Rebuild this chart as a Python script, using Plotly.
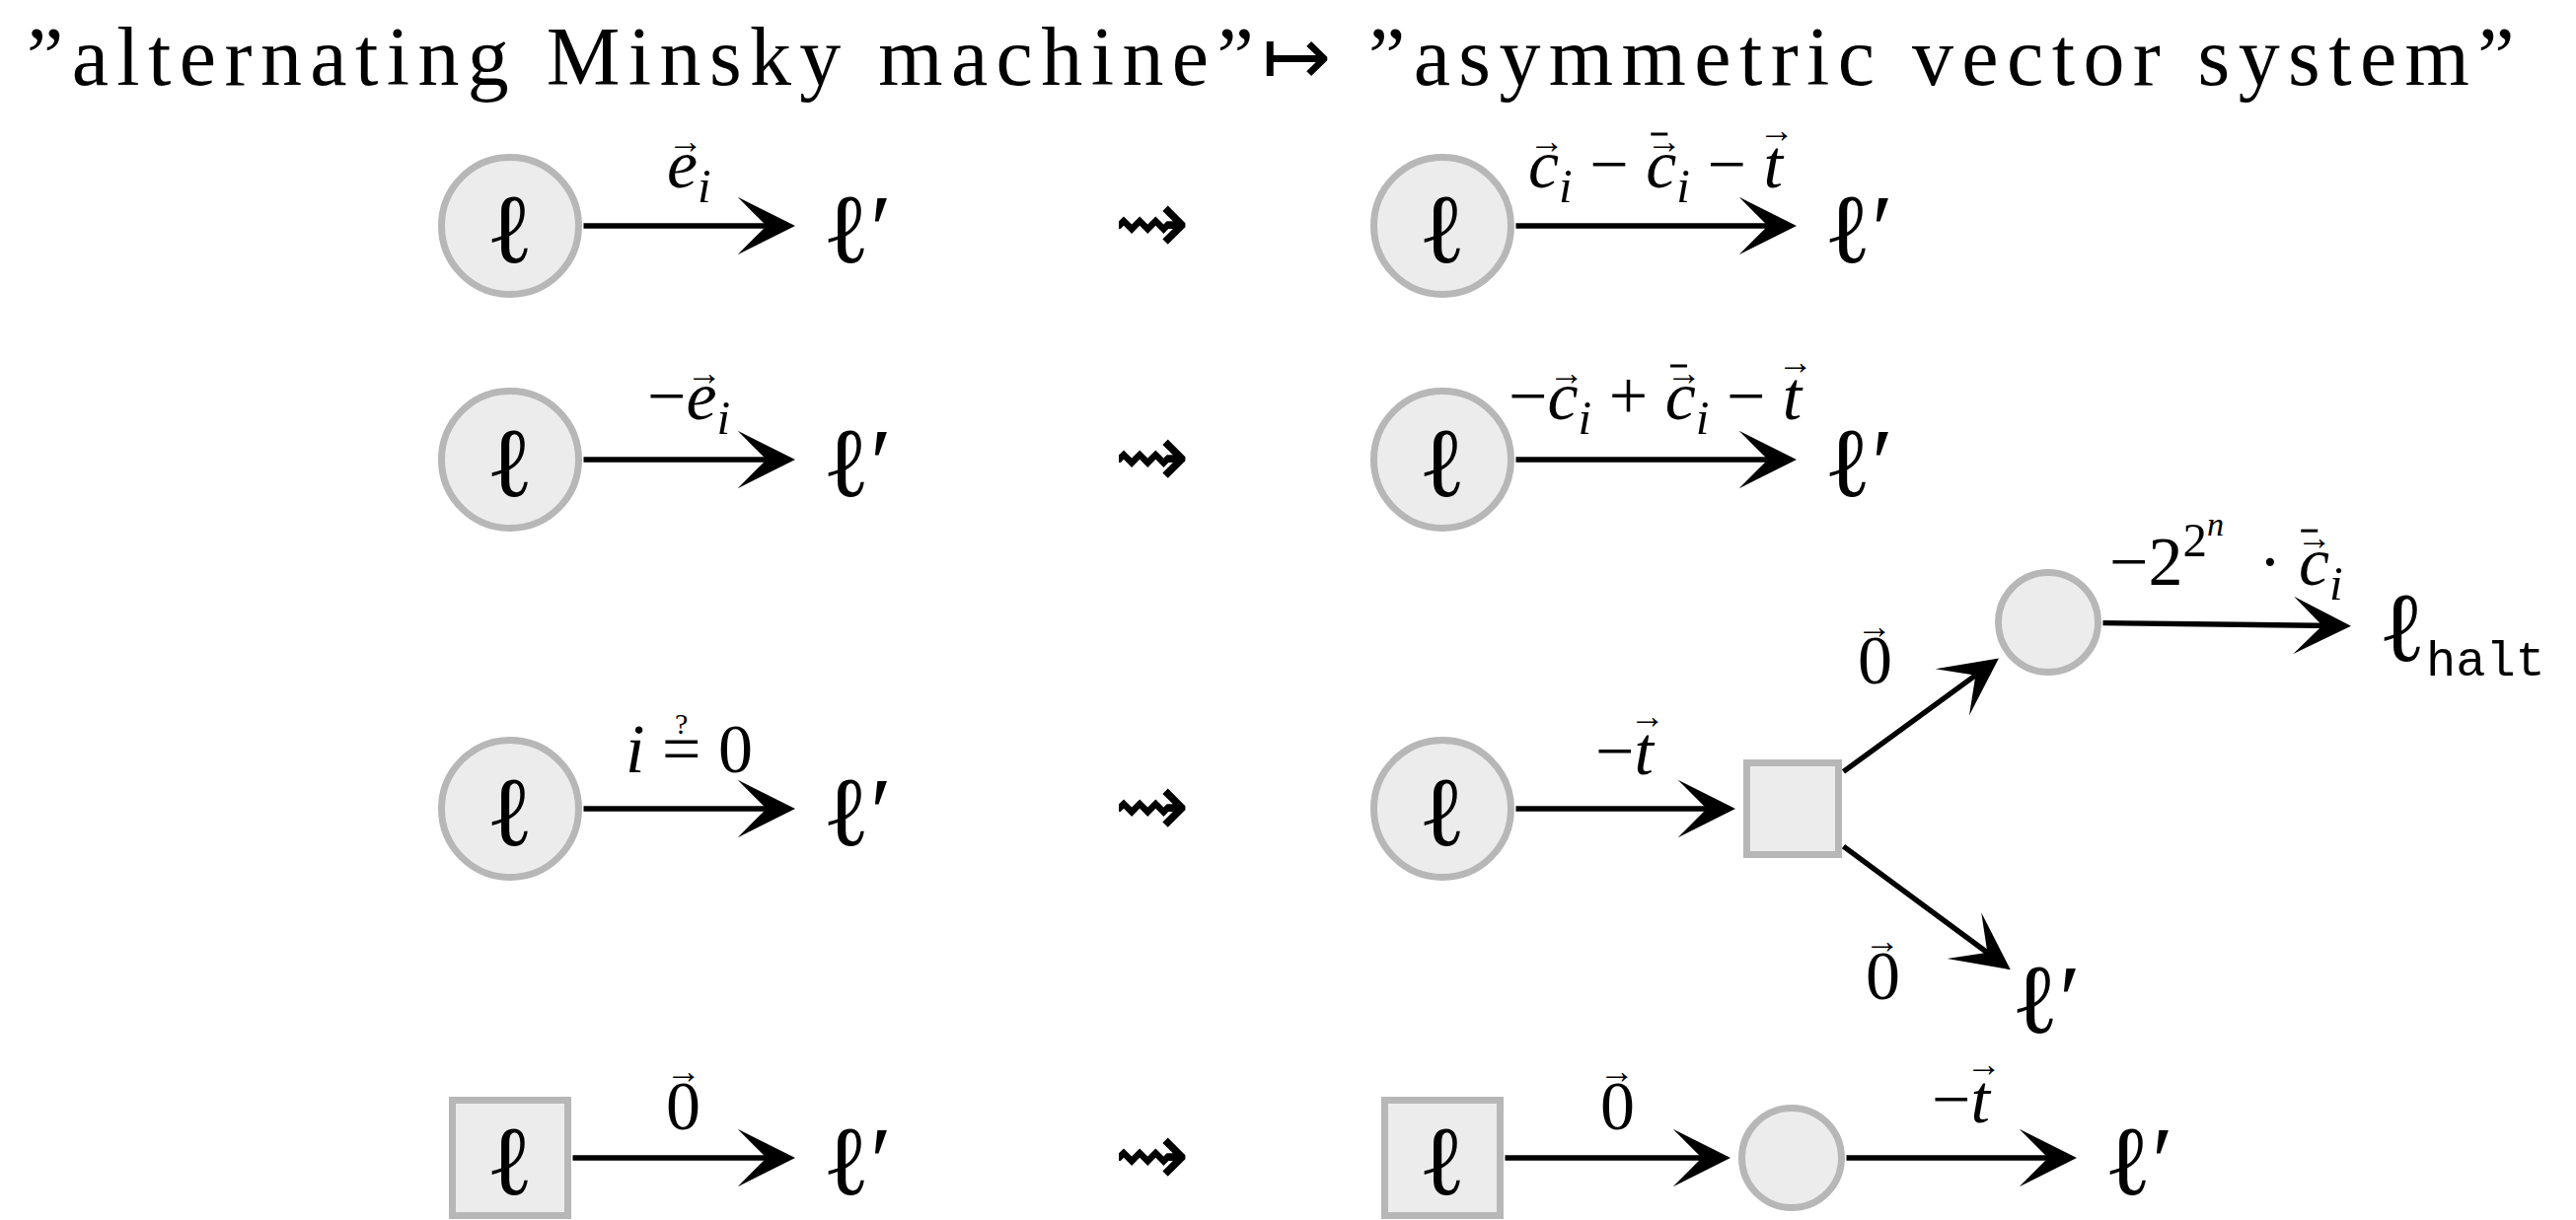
import math
import plotly.graph_objects as go

W, H = 2611, 1237
PAGE_MARGIN = 8   # default body margin of the html page

TITLE = "\u201dalternating Minsky machine\u201d\u21a6 \u201dasymmetric vector system\u201d"
TITLE_X = 25
TITLE_BASE = 86
TITLE_SIZE = 84
TITLE_SPACING = 8.4

SERIF = "Liberation Serif"
MONO = "Liberation Mono"
ELL_FONT = "DejaVu Serif"

# ---- nodes -------------------------------------------------------------
NODE_NAMES = ["L1", "L2", "L3", "L4",
              "R1", "R2", "R3", "R3q", "R3c", "R4", "R4c",
              "T1", "T2", "T3", "T4", "U1", "U2", "HALT", "U3", "U4"]
NODE_X = [517, 517, 517, 517,
          1462, 1462, 1462, 1817, 2076, 1462, 1816,
          869, 869, 869, 869, 1884, 1884, 2495, 2074, 2168]
NODE_Y = [229, 466, 820, 1174,
          229, 466, 820, 820, 631, 1174, 1174,
          229, 466, 820, 1174, 229, 466, 636, 1010, 1174]
NODE_KIND = ["circle", "circle", "circle", "square",
             "circle", "circle", "circle", "square", "circle", "square", "circle",
             "text", "text", "text", "text", "text", "text", "text", "text", "text"]
NODE_SIZE = [73, 73, 73, 62,
             73, 73, 73, 50, 54, 62, 54,
             63, 63, 63, 63, 63, 63, 112, 45, 63]
ELL = "\u2113"
LP = "\u2113<span style='font-family:Liberation Serif'>\u2032</span>"
HALT = ("<span style='font-size:100px'>\u2113</span>"
        "<sub><span style='font-family:Liberation Mono'>halt</span></sub>")
NODE_LABEL = [ELL, ELL, ELL, ELL,
              ELL, ELL, ELL, "", "", ELL, "",
              LP, LP, LP, LP, LP, LP, HALT, LP, LP]

# ---- edges -------------------------------------------------------------
M = "\u2212"
EDGE_SRC = ["L1", "L2", "L3", "L4", "R1", "R2", "R3", "R3q", "R3q", "R3c", "R4", "R4c"]
EDGE_DST = ["T1", "T2", "T3", "T4", "U1", "U2", "R3q", "R3c", "U3", "HALT", "R4c", "U4"]
EDGE_RUNS = [
    [("e", 0, 1, "vec"), ("i", 1, 1, None)],
    [(M, 0, 0, None), ("e", 0, 1, "vec"), ("i", 1, 1, None)],
    [("i", 0, 1, None), (" ", 0, 0, None), ("=", 0, 0, "q"), (" ", 0, 0, None), ("0", 0, 0, None)],
    [("0", 0, 0, "vec")],
    [("c", 0, 1, "vec"), ("i", 1, 1, None), (" " + M + " ", 0, 0, None),
     ("c", 0, 1, "barvec"), ("i", 1, 1, None), (" " + M + " ", 0, 0, None), ("t", 0, 1, "vec")],
    [(M, 0, 0, None), ("c", 0, 1, "vec"), ("i", 1, 1, None), (" + ", 0, 0, None),
     ("c", 0, 1, "barvec"), ("i", 1, 1, None), (" " + M + " ", 0, 0, None), ("t", 0, 1, "vec")],
    [(M, 0, 0, None), ("t", 0, 1, "vec")],
    [("0", 0, 0, "vec")],
    [("0", 0, 0, "vec")],
    [(M, 0, 0, None), ("2", 0, 0, None), ("2", 2, 0, None), ("n", 3, 1, None),
     ("\u2002\u00b7 ", 0, 0, None), ("c", 0, 1, "barvec"), ("i", 1, 1, None)],
    [("0", 0, 0, "vec")],
    [(M, 0, 0, None), ("t", 0, 1, "vec")],
]
EDGE_LABEL_DX = [0, 0, 0, 0, 0, 0, 0, -46, -44, 0, 0, 0]
EDGE_LABEL_BASE_DY = [-38, -40, -37, -29, -38, -40, -35, -32, 93, -40, -29, -36]

SQUIG_X = 1167
SQUIG_ROWS = [229, 466, 820, 1174]

STROKE = "#999999"
FILL = "#e5e5e5"
NODE_LINE = 7
ARROW_W = 5.4
TIP_GAP = 8
FS_MATH = 70
FS_NODE = 100
FS_VEC = 36

ADV_RM = {" ": 0.25, "\u2002": 0.5, "0": 0.5, "2": 0.5, "+": 0.564, M: 0.564,
          "=": 0.564, "\u00b7": 0.25}
ADV_IT = {"c": 0.444, "e": 0.444, "t": 0.278, "i": 0.278, "n": 0.5}
LEVEL_SCALE = {0: 1.0, 1: 0.7, 2: 0.7, 3: 0.49}
LEVEL_SHIFT = {0: 0.0, 1: 0.21, 2: -0.42, 3: -0.714}
LEVEL_TAGS = {0: [], 1: ["sub"], 2: ["sup"], 3: ["sup", "sup"]}
ASC, DESC = 0.891, 0.216

idx = {n: i for i, n in enumerate(NODE_NAMES)}


def boundary(i, ux, uy):
    k, s = NODE_KIND[i], NODE_SIZE[i]
    if k == "square":
        return min(s / abs(ux) if ux else 1e9, s / abs(uy) if uy else 1e9)
    return s


def build(runs):
    html, stack, x = "", [], 0.0
    top, bot = -ASC, DESC
    decos = []
    for text, lvl, it, deco in runs:
        tags = LEVEL_TAGS[lvl]
        k = 0
        while k < len(stack) and k < len(tags) and stack[k] == tags[k]:
            k += 1
        for t in reversed(stack[k:]):
            html += f"</{t}>"
        for t in tags[k:]:
            html += f"<{t}>"
        stack = list(tags)
        html += f"<i>{text}</i>" if it else text
        sc = LEVEL_SCALE[lvl]
        w = sum((ADV_IT if it else ADV_RM).get(ch, 0.5) for ch in text) * sc
        if deco:
            tall = text in ("t", "0")
            decos.append((x + w / 2 + (0.05 if it else 0.0), tall, deco))
        x += w
        top = min(top, LEVEL_SHIFT[lvl] - ASC * sc)
        bot = max(bot, LEVEL_SHIFT[lvl] + DESC * sc)
    for t in reversed(stack):
        html += f"</{t}>"
    return html, x, (top + bot) / 2, decos


fig = go.Figure()

for kind, sym in (("circle", "circle"), ("square", "square")):
    sel = [i for i in range(len(NODE_NAMES)) if NODE_KIND[i] == kind]
    fig.add_trace(go.Scatter(
        x=[NODE_X[i] for i in sel], y=[NODE_Y[i] for i in sel], mode="markers",
        hoverinfo="skip",
        marker=dict(symbol=sym, size=[2 * (NODE_SIZE[i] - NODE_LINE / 2) for i in sel],
                    color=FILL, line=dict(color=STROKE, width=NODE_LINE))))

for i, lab in enumerate(NODE_LABEL):
    if not lab:
        continue
    fig.add_annotation(x=NODE_X[i], y=NODE_Y[i] + 2, text=lab, showarrow=False,
                       xanchor="center", yanchor="middle",
                       font=dict(family=ELL_FONT, size=FS_NODE if lab != HALT else 72,
                                 color="black"))

for s, d, runs, dx, bdy in zip(EDGE_SRC, EDGE_DST, EDGE_RUNS, EDGE_LABEL_DX, EDGE_LABEL_BASE_DY):
    i, j = idx[s], idx[d]
    vx, vy = NODE_X[j] - NODE_X[i], NODE_Y[j] - NODE_Y[i]
    L = math.hypot(vx, vy)
    ux, uy = vx / L, vy / L
    t0 = boundary(i, ux, uy)
    t1 = boundary(j, ux, uy) + (TIP_GAP if NODE_KIND[j] != "text" else 0)
    x0, y0 = NODE_X[i] + ux * t0, NODE_Y[i] + uy * t0
    x1, y1 = NODE_X[j] - ux * t1, NODE_Y[j] - uy * t1
    fig.add_annotation(x=x1, y=y1, ax=x0, ay=y0, xref="x", yref="y", axref="x", ayref="y",
                       text="", showarrow=True, arrowhead=3, arrowsize=1.8,
                       arrowwidth=ARROW_W, arrowcolor="black", standoff=0, startstandoff=0)
    html, wid, cen, decos = build(runs)
    cx = (x0 + x1) / 2 + dx
    base = (y0 + y1) / 2 + bdy
    fig.add_annotation(x=cx, y=base + cen * FS_MATH, text=html, showarrow=False,
                       xanchor="center", yanchor="middle",
                       font=dict(family=SERIF, size=FS_MATH, color="black"))
    left = cx - wid * FS_MATH / 2
    for ex, tall, kind in decos:
        axc = left + ex * FS_MATH
        if kind == "q":
            fig.add_annotation(x=axc, y=base - 50, text="?", showarrow=False,
                               xanchor="center", yanchor="middle",
                               font=dict(family=SERIF, size=30, color="black"))
            continue
        ay_ = base - (55 if tall else 44)
        fig.add_annotation(x=axc, y=ay_ - 4, text="\u2192", showarrow=False,
                           xanchor="center", yanchor="middle",
                           font=dict(family=SERIF, size=FS_VEC, color="black"))
        if kind == "barvec":
            fig.add_shape(type="line", x0=axc - 14, x1=axc + 3, y0=ay_ - 11, y1=ay_ - 11,
                          line=dict(color="black", width=3))

for y in SQUIG_ROWS:
    fig.add_annotation(x=SQUIG_X, y=y - 4, text="\u21dd", showarrow=False,
                       xanchor="center", yanchor="middle",
                       font=dict(family="DejaVu Sans", size=92, color="black"))

fig.add_annotation(x=TITLE_X, y=TITLE_BASE - 0.3375 * TITLE_SIZE,
                   text=f"<span style='letter-spacing:{TITLE_SPACING}px'>{TITLE}</span>",
                   showarrow=False, xanchor="left", yanchor="middle",
                   font=dict(family=SERIF, size=TITLE_SIZE, color="black"))

# the figure sits PAGE_MARGIN px inside the page: shift the ranges so that
# data units coincide with page pixels
fig.update_layout(width=W - PAGE_MARGIN, height=H - PAGE_MARGIN,
                  margin=dict(l=0, r=0, t=0, b=0),
                  paper_bgcolor="white", plot_bgcolor="white", showlegend=False,
                  xaxis=dict(range=[PAGE_MARGIN, W], visible=False, fixedrange=True),
                  yaxis=dict(range=[H, PAGE_MARGIN], visible=False, fixedrange=True))

fig.write_html("out.html")
